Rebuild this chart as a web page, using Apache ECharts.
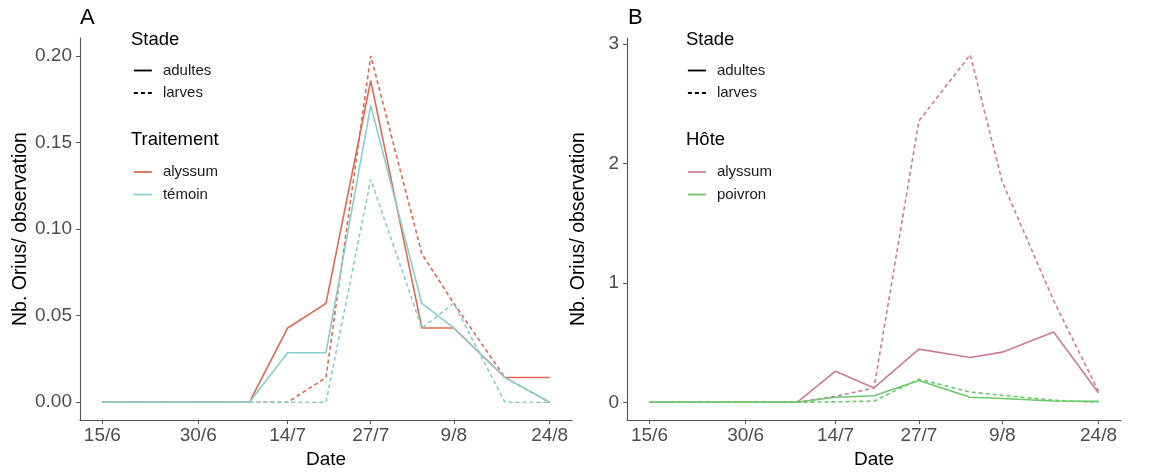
<!DOCTYPE html>
<html>
<head>
<meta charset="utf-8">
<title>Orius</title>
<script src="https://cdn.jsdelivr.net/npm/echarts@6/dist/echarts.min.js"></script>
<style>
  html, body { margin: 0; padding: 0; background: #fff; }
  #chart { width: 1150px; height: 474px; }
</style>
</head>
<body>
<div id="chart"></div>
<script>
// Sampling dates (day/month)
const dates = ['15/6', '8/7', '14/7', '20/7', '27/7', '4/8', '9/8', '17/8', '24/8'];
const tickLabels = ['15/6', '30/6', '14/7', '27/7', '9/8', '24/8'];

// A: Orius per observation by treatment
const aAlyssumAdultes = [0, 0, 0.0429, 0.0571, 0.1857, 0.0429, 0.0429, 0.0143, 0.0143];
const aAlyssumLarves  = [0, 0, 0, 0.0143, 0.2000, 0.0857, 0.0571, 0.0143, 0];
const aTemoinAdultes  = [0, 0, 0.0286, 0.0286, 0.1714, 0.0571, 0.0429, 0.0143, 0];
const aTemoinLarves   = [0, 0, 0, 0, 0.1286, 0.0429, 0.0571, 0, 0];

// B: Orius per observation by host plant
const bAlyssumAdultes = [0, 0, 0.26, 0.12, 0.445, 0.375, 0.42, 0.588, 0.078];
const bAlyssumLarves  = [0, 0, 0.05, 0.12, 2.356, 2.909, 1.845, 0.851, 0.091];
const bPoivronAdultes = [0, 0, 0.042, 0.055, 0.183, 0.042, 0.032, 0.011, 0.008];
const bPoivronLarves  = [0, 0, 0.004, 0.01, 0.194, 0.086, 0.058, 0.017, 0];

const yTicksA = [0, 0.05, 0.10, 0.15, 0.20];
const yTicksB = [0, 1, 2, 3];

const COL = {
  alyssumA: '#E0684F',
  temoin: '#8ACDCD',
  alyssumB: '#CC7D94',
  poivron: '#6CC86C'
};
const FONT = '"Liberation Sans", Arial, sans-serif';
const DASH = [4, 3];

// days elapsed since the first sampling date
const origin = Date.UTC(2000, 5, 15);
function dayOf(s) {
  const [d, m] = s.split('/').map(Number);
  return Math.round((Date.UTC(2000, m - 1, d) - origin) / 86400000);
}
const days = dates.map(dayOf);
const tickDays = tickLabels.map(dayOf);
const pairs = vals => vals.map((v, i) => [days[i], v]);

function xAxis(gridIndex) {
  return {
    type: 'value', gridIndex, min: -3.5, max: 73.5,
    name: 'Date', nameLocation: 'middle', nameGap: 29,
    nameTextStyle: { fontFamily: FONT, fontSize: 19, color: '#000' },
    axisLine: { onZero: false, lineStyle: { color: '#555', width: 1.1 } },
    axisTick: { length: 4, customValues: tickDays, lineStyle: { color: '#555' } },
    axisLabel: {
      customValues: tickDays, margin: 6,
      fontFamily: FONT, fontSize: 19, color: '#4d4d4d',
      formatter: v => tickLabels[tickDays.indexOf(v)] || ''
    },
    splitLine: { show: false }
  };
}
function yAxis(gridIndex, min, max, ticks, digits) {
  return {
    type: 'value', gridIndex, min, max,
    name: 'Nb. Orius/ observation', nameLocation: 'middle', nameGap: 38,
    nameTextStyle: { fontFamily: FONT, fontSize: 19.5, color: '#000' },
    axisLine: { show: true, onZero: false, lineStyle: { color: '#555', width: 1.1 } },
    axisTick: { show: true, length: 4, customValues: ticks, lineStyle: { color: '#555' } },
    axisLabel: {
      customValues: ticks, margin: 8,
      fontFamily: FONT, fontSize: 19, color: '#4d4d4d',
      formatter: v => v.toFixed(digits)
    },
    splitLine: { show: false }
  };
}
function line(name, idx, vals, color, dashed) {
  return {
    type: 'line', name, xAxisIndex: idx, yAxisIndex: idx,
    data: pairs(vals), symbol: 'none', silent: true,
    lineStyle: { color, width: 1.6, type: dashed ? DASH : 'solid' }
  };
}
function heading(text, left, top, size) {
  return {
    text, left, top, padding: 0,
    textStyle: { fontFamily: FONT, fontSize: size, fontWeight: 'normal', color: '#000' }
  };
}
function legendBlock(left, top, data) {
  return {
    orient: 'vertical', left, top, padding: 0,
    itemWidth: 18, itemHeight: 14, itemGap: 7.5,
    selectedMode: false, data,
    itemStyle: { opacity: 0 },
    lineStyle: { width: 1.8 },
    textStyle: { fontFamily: FONT, fontSize: 15, color: '#1a1a1a', padding: [0, 0, 0, 6] }
  };
}

const option = {
  animation: false,
  backgroundColor: '#fff',
  title: [
    heading('A', 80, 7, 22),
    heading('Stade', 131, 30, 18.5),
    heading('Traitement', 131, 130, 18.5),
    heading('B', 628, 7, 22),
    heading('Stade', 686, 30, 18.5),
    heading('Hôte', 686, 130, 18.5)
  ],
  legend: [
    legendBlock(133, 63, ['adultes', 'larves']),
    legendBlock(133, 164.5, [
      { name: 'alyssum', lineStyle: { color: COL.alyssumA } },
      { name: 'témoin', lineStyle: { color: COL.temoin } }
    ]),
    legendBlock(687, 63, ['adultes', 'larves']),
    legendBlock(687, 164.5, [
      { name: 'alyssum', lineStyle: { color: COL.alyssumB } },
      { name: 'poivron', lineStyle: { color: COL.poivron } }
    ])
  ],
  grid: [
    { left: 80, top: 38, width: 492, height: 386 },
    { left: 627, top: 38, width: 494, height: 386 }
  ],
  xAxis: [xAxis(0), xAxis(1)],
  yAxis: [
    yAxis(0, -0.0103, 0.2103, yTicksA, 2),
    yAxis(1, -0.149, 3.05, yTicksB, 0)
  ],
  series: [
    line('alyssum', 0, aAlyssumAdultes, COL.alyssumA, false),
    line('alyssum', 0, aAlyssumLarves, COL.alyssumA, true),
    line('témoin', 0, aTemoinAdultes, COL.temoin, false),
    line('témoin', 0, aTemoinLarves, COL.temoin, true),
    line('alyssum', 1, bAlyssumAdultes, COL.alyssumB, false),
    line('alyssum', 1, bAlyssumLarves, COL.alyssumB, true),
    line('poivron', 1, bPoivronAdultes, COL.poivron, false),
    line('poivron', 1, bPoivronLarves, COL.poivron, true),
    // line-type keys for the "Stade" legends
    line('adultes', 0, [], '#000', false),
    line('larves', 0, [], '#000', true)
  ]
};

echarts.init(document.getElementById('chart'), null, { renderer: 'canvas' }).setOption(option);
</script>
</body>
</html>
